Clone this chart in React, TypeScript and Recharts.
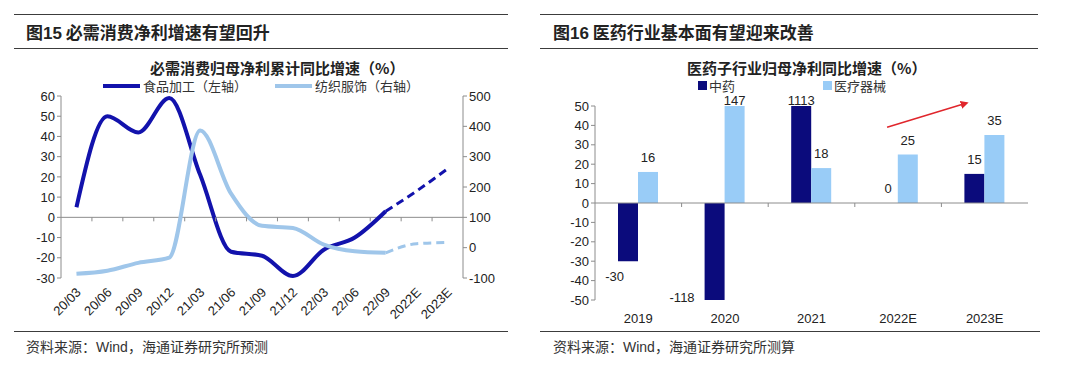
import React from "react";
import { LineChart, Line, BarChart, Bar, XAxis, YAxis, ReferenceLine, ReferenceDot, LabelList } from "recharts";

// 图15：必需消费归母净利累计同比增速（%）
const periods = ["20/03", "20/06", "20/09", "20/12", "21/03", "21/06", "21/09", "21/12", "22/03", "22/06", "22/09", "2022E", "2023E"];
const foodGrowth = [5, 50, 42, 59, 21, -17, -19, -29, -16, -10, 3, 13, 24];
const textileGrowth = [-86, -76, -50, -33, 386, 178, 72, 65, 10, -12, -17, 13, 17];
const lastActual = "22/09";
const leftTicks = [60, 50, 40, 30, 20, 10, 0, -10, -20, -30];
const rightTicks = [500, 400, 300, 200, 100, 0, -100];

// 图16：医药子行业归母净利同比增速（%）
const years = ["2019", "2020", "2021", "2022E", "2023E"];
const tcmGrowth = [-30, -118, 1113, 0, 15];
const deviceGrowth = [16, 147, 18, 25, 35];
const barTicks = [50, 40, 30, 20, 10, 0, -10, -20, -30, -40, -50];

const FONT = '"Liberation Sans", Arial, "Noto Sans CJK SC", sans-serif';
const CJK = '"Noto Sans CJK SC", "Liberation Sans", sans-serif';
const DARK_LINE = "#1212ac";
const LIGHT_LINE = "#9fc6ea";
const DARK_BAR = "#0b0b7c";
const LIGHT_BAR = "#99ccf7";
const AXIS = "#8c8c8c";
const BAR_SIZE = 20;

const cut = periods.indexOf(lastActual);
const lineData = periods.map((p, i) => ({
  period: p,
  foodA: i <= cut ? foodGrowth[i] : null,
  foodF: i >= cut ? foodGrowth[i] : null,
  texA: i <= cut ? textileGrowth[i] : null,
  texF: i >= cut ? textileGrowth[i] : null,
}));

const barData = years.map((y, i) => ({ year: y, tcm: tcmGrowth[i], device: deviceGrowth[i] }));

// 左圖繪圖區幾何
const L = { w: 520, h: 240, top: 6, left: 61, right: 463, bottom: 188 };
const lBand = (L.right - L.left) / periods.length;
const lZero = L.top + (60 / 90) * (L.bottom - L.top);

// 右圖繪圖區幾何
const R = { w: 500, h: 240, top: 16, left: 55, right: 488, bottom: 210 };
const rBand = (R.right - R.left) / years.length;
const rZero = R.top + 0.5 * (R.bottom - R.top);

function PeriodTick(props: any) {
  const { x, payload, index } = props;
  const tx = x + 2;
  const ty = L.bottom + 12;
  return (
    <g>
      {index > 0 && (
        <line x1={x - lBand / 2} x2={x - lBand / 2} y1={lZero} y2={lZero + 4} stroke={AXIS} />
      )}
      <text
        x={tx}
        y={ty}
        textAnchor="end"
        transform={`rotate(-45 ${tx} ${ty})`}
        fontSize={13}
        fill="#222"
        fontFamily={FONT}
        dy="0.35em"
      >
        {payload.value}
      </text>
    </g>
  );
}

function YearTick(props: any) {
  const { x, payload, index } = props;
  return (
    <g>
      {index > 0 && (
        <line x1={x - rBand / 2} x2={x - rBand / 2} y1={rZero} y2={rZero + 4} stroke={AXIS} />
      )}
      <text x={x} y={R.bottom + 23} textAnchor="middle" fontSize={13} fill="#222" fontFamily={FONT}>
        {payload.value}
      </text>
    </g>
  );
}

const labelStyle = { fontSize: 13, fill: "#222", fontFamily: FONT };

function BarValue(props: any) {
  const { x, y, width, height, value } = props;
  const rawTop = Math.min(y, y + height);
  const rawBottom = Math.max(y, y + height);
  const top = Math.max(rawTop, R.top);
  const bottom = Math.min(rawBottom, R.bottom);
  if (value < 0) {
    const clipped = rawBottom > R.bottom;
    return (
      <text x={x + (clipped ? -10 : 6)} y={clipped ? bottom + 2 : bottom + 20} textAnchor="end" {...labelStyle}>
        {value}
      </text>
    );
  }
  const clipped = rawTop < R.top;
  return (
    <text x={x + width / 2} y={clipped ? top - 1 : top - 10} textAnchor="middle" {...labelStyle}>
      {value}
    </text>
  );
}

// 零值柱沒有高度，標籤另外畫在中藥柱的位置
function ZeroLabel(props: any) {
  const { cx, cy, value } = props;
  return (
    <text x={cx - BAR_SIZE / 2} y={cy - 10} textAnchor="middle" {...labelStyle}>
      {value}
    </text>
  );
}

function Arrow(props: any) {
  const { x1, y1, x2, y2 } = props;
  const sx = x1 - 11;
  const ex = x2 - 18;
  return (
    <g>
      <defs>
        <marker id="redHead" markerWidth="8" markerHeight="8" refX="6" refY="4" orient="auto" markerUnits="userSpaceOnUse">
          <path d="M0,0 L8,4 L0,8 z" fill="#e0262c" />
        </marker>
      </defs>
      <line x1={sx} y1={y1} x2={ex} y2={y2} stroke="#e0262c" strokeWidth={1.5} markerEnd="url(#redHead)" />
    </g>
  );
}

const rule = (left: number, top: number, width: number) => (
  <div style={{ position: "absolute", left, top, width, height: 0, borderTop: "1px solid #3c3c3c" }} />
);

const text = (left: number, top: number, content: React.ReactNode, style: React.CSSProperties = {}) => (
  <div style={{ position: "absolute", left, top, whiteSpace: "nowrap", lineHeight: 1, ...style }}>{content}</div>
);

export default function App() {
  return (
    <div style={{ position: "absolute", left: 0, top: 0, width: 1080, height: 378, background: "#fff", fontFamily: CJK, color: "#222" }}>
      {/* 左：標題 */}
      {rule(14, 14, 494)}
      {text(26, 23, <><span>图</span><span style={{ fontFamily: FONT }}>15</span> 必需消费净利增速有望回升</>, { fontSize: 17, fontWeight: 700 })}
      {rule(14, 48, 494)}
      {text(150, 60, "必需消费归母净利累计同比增速（%）", { fontSize: 15, fontWeight: 700 })}

      {/* 左：圖例 */}
      <div style={{ position: "absolute", left: 103, top: 84, width: 37, height: 4, background: DARK_LINE }} />
      {text(143, 79, "食品加工（左轴）", { fontSize: 13, color: "#333" })}
      <div style={{ position: "absolute", left: 275, top: 84, width: 37, height: 4, background: LIGHT_LINE }} />
      {text(315, 79, "纺织服饰（右轴）", { fontSize: 13, color: "#333" })}

      <div style={{ position: "absolute", left: 0, top: 90 }}>
        <LineChart width={L.w} height={L.h} data={lineData} margin={{ top: L.top, right: 10, left: 11, bottom: 0 }}>
          <XAxis dataKey="period" scale="band" axisLine={false} tickLine={false} interval={0} height={52} tick={<PeriodTick />} />
          <YAxis
            yAxisId="l"
            width={50}
            domain={[-30, 60]}
            ticks={leftTicks}
            interval={0}
            stroke={AXIS}
            tickSize={4}
            tick={{ fontSize: 13, fill: "#222", fontFamily: FONT }}
          />
          <YAxis
            yAxisId="r"
            orientation="right"
            width={47}
            domain={[-100, 500]}
            ticks={rightTicks}
            interval={0}
            stroke={AXIS}
            tickSize={4}
            tick={{ fontSize: 13, fill: "#222", fontFamily: FONT }}
          />
          <ReferenceLine yAxisId="l" y={0} stroke={AXIS} />
          <Line yAxisId="l" type="monotone" dataKey="foodA" stroke={DARK_LINE} strokeWidth={4} dot={false} isAnimationActive={false} />
          <Line yAxisId="l" type="monotone" dataKey="foodF" stroke={DARK_LINE} strokeWidth={3} strokeDasharray="8 5" dot={false} isAnimationActive={false} />
          <Line yAxisId="r" type="monotone" dataKey="texA" stroke={LIGHT_LINE} strokeWidth={4} dot={false} isAnimationActive={false} />
          <Line yAxisId="r" type="monotone" dataKey="texF" stroke={LIGHT_LINE} strokeWidth={3} strokeDasharray="8 5" dot={false} isAnimationActive={false} />
        </LineChart>
      </div>

      {rule(14, 331, 494)}
      {text(26, 339, <>资料来源：<span style={{ fontFamily: FONT }}>Wind</span>，海通证券研究所预测</>, { fontSize: 14, color: "#333" })}

      {/* 右：標題 */}
      {rule(540, 14, 498)}
      {text(553, 23, <><span>图</span><span style={{ fontFamily: FONT }}>16</span> 医药行业基本面有望迎来改善</>, { fontSize: 17, fontWeight: 700 })}
      {rule(540, 48, 498)}
      {text(687, 60, "医药子行业归母净利同比增速（%）", { fontSize: 15, fontWeight: 700 })}

      {/* 右：圖例 */}
      <div style={{ position: "absolute", left: 698, top: 81, width: 9, height: 9, background: DARK_BAR }} />
      {text(709, 79, "中药", { fontSize: 13, color: "#333" })}
      <div style={{ position: "absolute", left: 823, top: 81, width: 9, height: 9, background: LIGHT_BAR }} />
      {text(834, 79, "医疗器械", { fontSize: 13, color: "#333" })}

      <div style={{ position: "absolute", left: 540, top: 90 }}>
        <BarChart width={R.w} height={R.h} data={barData} margin={{ top: R.top, right: 12, left: 10, bottom: 0 }} barGap={0}>
          <XAxis dataKey="year" axisLine={false} tickLine={false} interval={0} height={30} tick={<YearTick />} />
          <YAxis
            width={45}
            domain={[-50, 50]}
            allowDataOverflow
            ticks={barTicks}
            interval={0}
            stroke={AXIS}
            tickSize={4}
            tick={{ fontSize: 13, fill: "#222", fontFamily: FONT }}
          />
          <Bar dataKey="tcm" fill={DARK_BAR} barSize={BAR_SIZE} isAnimationActive={false}>
            <LabelList dataKey="tcm" content={<BarValue />} />
          </Bar>
          <Bar dataKey="device" fill={LIGHT_BAR} barSize={BAR_SIZE} isAnimationActive={false}>
            <LabelList dataKey="device" content={<BarValue />} />
          </Bar>
          <ReferenceLine y={0} stroke={AXIS} />
          {barData
            .filter((d) => d.tcm === 0)
            .map((d) => (
              <ReferenceDot key={d.year} x={d.year} y={d.tcm} shape={(p: any) => <ZeroLabel {...p} value={d.tcm} />} />
            ))}
          <ReferenceLine
            segment={[{ x: "2022E", y: 39 }, { x: "2023E", y: 51.5 }]}
            ifOverflow="visible"
            shape={<Arrow />}
          />
        </BarChart>
      </div>

      {rule(540, 331, 500)}
      {text(553, 339, <>资料来源：<span style={{ fontFamily: FONT }}>Wind</span>，海通证券研究所测算</>, { fontSize: 14, color: "#333" })}
    </div>
  );
}
